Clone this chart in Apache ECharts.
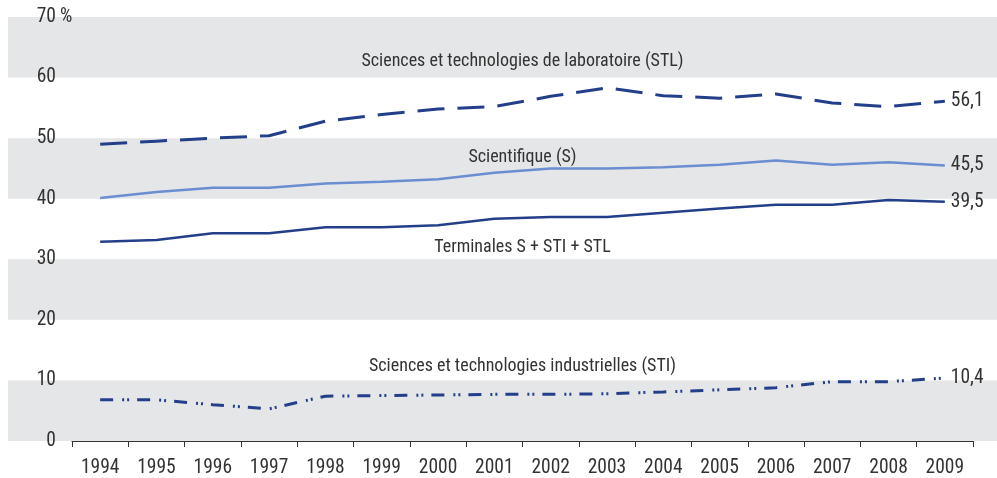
<!DOCTYPE html>
<html><head><meta charset="utf-8">
<script src="https://cdn.jsdelivr.net/npm/echarts@6/dist/echarts.min.js"></script>
<style>html,body{margin:0;padding:0;background:#fff}#c{width:997px;height:478px}</style>
</head><body><div id="c"></div>
<script>
const years = ['1994','1995','1996','1997','1998','1999','2000','2001','2002','2003','2004','2005','2006','2007','2008','2009'];
const stl = [49.0,49.5,50.0,50.4,52.8,53.9,54.8,55.2,56.9,58.3,57.0,56.6,57.3,55.8,55.2,56.1];
const s = [40.1,41.1,41.8,41.8,42.5,42.8,43.2,44.3,45.0,45.0,45.2,45.6,46.3,45.6,46.0,45.5];
const total = [32.9,33.2,34.3,34.3,35.3,35.3,35.6,36.7,37.0,37.0,37.7,38.4,39.0,39.0,39.8,39.5];
const sti = [6.8,6.8,6.0,5.3,7.4,7.5,7.6,7.7,7.7,7.8,8.1,8.45,8.8,9.8,9.8,10.4];
const endLabels = ['56,1','45,5','39,5','10,4'];
const yTicks = [0,10,20,30,40,50,60,70];
const bands = [[0,10],[20,30],[40,50],[60,70]];
const seriesNames = ['Sciences et technologies de laboratoire (STL)','Scientifique (S)','Terminales S + STI + STL','Sciences et technologies industrielles (STI)'];
// annotation anchors: between categories [i, i+1], at value
const annotPos = [[7,8,62.7],[7,8,46.8],[7,8,31.9],[7,8,12.3]];

// choose the available font whose proportions best match the reference
const cv = document.createElement('canvas').getContext('2d');
const probe = seriesNames[0];
const TARGET_RATIO = 324/14; // text width / cap height in reference
const CAP = 14.2;             // reference cap height in px
function m(f, t){ cv.font = f; return cv.measureText(t); }
const candidates = [
  ['"Liberation Sans Narrow"','normal'],['"DejaVu Sans Condensed"','normal'],['"Roboto Condensed"','normal'],
  ['"Open Sans"','condensed'],['"Open Sans"','semi-condensed'],['"Noto Sans"','condensed'],['"Noto Sans"','semi-condensed'],
  ['"Noto Sans"','extra-condensed'],['"DejaVu Sans"','condensed'],['"Liberation Sans"','normal'],['Roboto','normal'],['Inter','normal'],['Lato','normal']
];
let best = ['"Liberation Sans"','normal',0.72,1], bestD = Infinity;
for (const [fam, st] of candidates) {
  const a = m(`normal ${st} 100px ${fam}, monospace`, probe).width, b = m(`normal ${st} 100px ${fam}, serif`, probe).width;
  if (Math.abs(a-b) > 0.5) continue; // not installed
  const cap = m(`normal ${st} 100px ${fam}, monospace`, 'H').actualBoundingBoxAscent;
  const ratio = a / cap;
  const d = Math.abs(ratio - TARGET_RATIO);
  if (d < bestD) { bestD = d; best = [fam, st, cap/100, a/100]; }
}
const FONT = best[0] + ',sans-serif';
const WEIGHT = best[1];
const SIZE = Math.round(CAP / best[2] * 2) / 2;
// annotation size fitted to the reference width of the first annotation (324 px)
const ASIZE = Math.round(324 / best[3] * 2) / 2;
const DARK = '#243f8a', LIGHT = '#6a8ed0', TXT = '#333';
const tStyle = (size) => ({color:TXT, fontFamily:FONT, fontWeight:WEIGHT, fontSize:size});

const chart = echarts.init(document.getElementById('c'));
function endLabel(txt){
  return Object.assign({show:true, formatter:txt, distance:6}, tStyle(SIZE));
}

chart.setOption({
  animation:false,
  grid:{left:72,right:24,top:17,bottom:36,containLabel:false},
  xAxis:{type:'category',data:years,boundaryGap:true,z:10,
    axisLine:{lineStyle:{color:'#333',width:1}},
    axisTick:{show:true,length:6,lineStyle:{color:'#333'}},
    axisLabel:Object.assign({interval:0,margin:17}, tStyle(SIZE)),
    splitLine:{show:false}},
  yAxis:{type:'value',min:0,max:70,interval:10,z:10,
    axisLine:{show:false},axisTick:{show:false},splitLine:{show:false},
    axisLabel:Object.assign({margin:16, formatter:v=>yTicks.includes(v)?String(v):''}, tStyle(SIZE))},
  series:[
    {type:'line',data:years.map(()=>null),z:-5,silent:true,
      markArea:{silent:true,itemStyle:{color:'#e5e6e8'},
        data:bands.map(b=>[{yAxis:b[0],x:8},{yAxis:b[1],x:997}])}},
    {name:seriesNames[0],type:'line',data:stl,symbol:'none',
      lineStyle:{color:DARK,width:3,type:[27,13]},endLabel:endLabel(endLabels[0]), z:3},
    {name:seriesNames[1],type:'line',data:s,symbol:'none',
      lineStyle:{color:LIGHT,width:2.5},endLabel:endLabel(endLabels[1]), z:3},
    {name:seriesNames[2],type:'line',data:total,symbol:'none',
      lineStyle:{color:DARK,width:2.5},endLabel:endLabel(endLabels[2]), z:3},
    {name:seriesNames[3],type:'line',data:sti,symbol:'none',
      lineStyle:{color:DARK,width:3,type:[13,9,2,3,2,8]},endLabel:endLabel(endLabels[3]), z:3}
  ]
});
const fontStr = (size) => `normal ${WEIGHT} ${size}px ${FONT}`;
const gfx = seriesNames.map((n,i)=>{
  const p0 = chart.convertToPixel({xAxisIndex:0,yAxisIndex:0},[annotPos[i][0],annotPos[i][2]]);
  const p1 = chart.convertToPixel({xAxisIndex:0,yAxisIndex:0},[annotPos[i][1],annotPos[i][2]]);
  return {type:'text',x:(p0[0]+p1[0])/2,y:p0[1],z:10,
    style:{text:n,fill:TXT,font:fontStr(ASIZE),align:'center',verticalAlign:'middle'}};
});
const yTop = chart.convertToPixel({yAxisIndex:0},70);
gfx.push({type:'text',x:60,y:yTop,z:10,style:{text:'%',fill:TXT,font:fontStr(SIZE),align:'left',verticalAlign:'middle'}});
chart.setOption({graphic:gfx});
</script></body></html>
